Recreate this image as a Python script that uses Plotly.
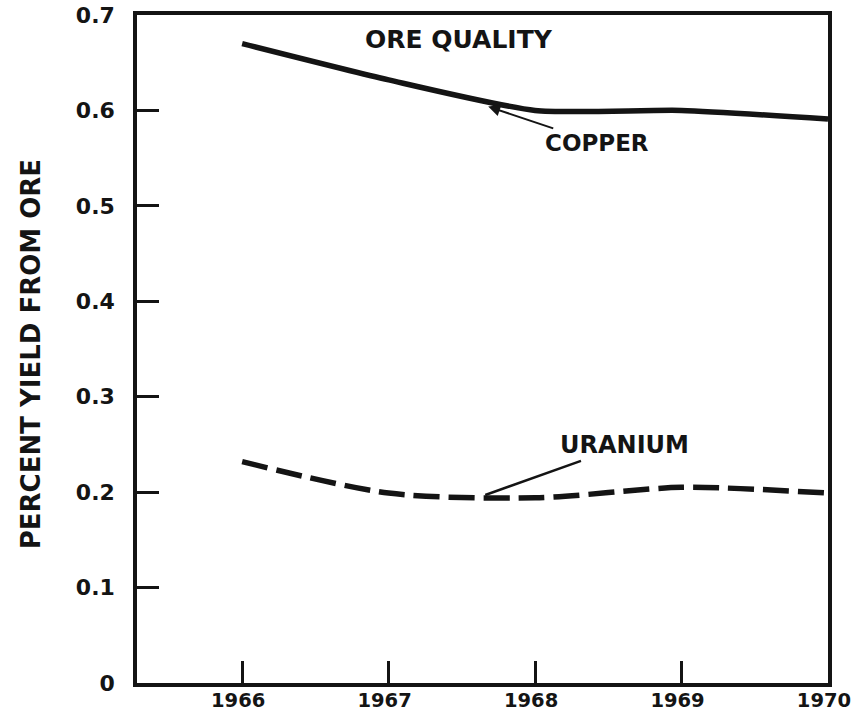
import plotly.graph_objects as go

# Yield of metal from ore, percent
years = [1966, 1967, 1968, 1969, 1970]
copper = [0.670, 0.632, 0.600, 0.600, 0.591]
uranium = [0.232, 0.199, 0.194, 0.205, 0.199]

x_ticks = [1966, 1967, 1968, 1969, 1970]
x_labels = ["1966", "1967", "1968", "1969", "1970"]
y_ticks = [0, 0.1, 0.2, 0.3, 0.4, 0.5, 0.6, 0.7]
y_labels = ["0", "0.1", "0.2", "0.3", "0.4", "0.5", "0.6", "0.7"]

INK = "#141414"
FONT = "DejaVu Sans"

fig = go.Figure()

fig.add_trace(go.Scatter(
    x=years, y=copper, mode="lines", name="COPPER",
    line=dict(color=INK, width=5.5, shape="spline", smoothing=0.6),
))
fig.add_trace(go.Scatter(
    x=years, y=uranium, mode="lines", name="URANIUM",
    line=dict(color=INK, width=5.5, dash="26px,9px", shape="spline", smoothing=0.8),
))

# Title inside the frame
fig.add_annotation(
    text="ORE QUALITY", x=0.466, y=0.963, xref="paper", yref="paper",
    xanchor="center", yanchor="middle", showarrow=False,
    font=dict(family=FONT, size=25, color=INK, weight="bold"),
)

# Labels with leader lines
fig.add_annotation(
    text="COPPER", x=1967.68, y=0.604, ax=1968.42, ay=0.566,
    xref="x", yref="y", axref="x", ayref="y",
    showarrow=True, arrowhead=2, arrowsize=1.2, arrowwidth=2, arrowcolor=INK,
    font=dict(family=FONT, size=23, color=INK, weight="bold"),
)
fig.add_annotation(
    text="URANIUM", x=1967.66, y=0.197, ax=1968.61, ay=0.249,
    xref="x", yref="y", axref="x", ayref="y",
    showarrow=True, arrowhead=0, arrowwidth=2.5, arrowcolor=INK,
    font=dict(family=FONT, size=24, color=INK, weight="bold"),
)

# Vertical axis title
fig.add_annotation(
    text="PERCENT YIELD FROM ORE", x=-0.153, y=0.4925, xref="paper", yref="paper",
    xanchor="center", yanchor="middle", textangle=-90, showarrow=False,
    font=dict(family=FONT, size=26, color=INK, weight="bold"),
)

axis_common = dict(
    showgrid=False, zeroline=False, showline=True, mirror=True,
    linecolor=INK, linewidth=3.5, automargin=False,
    ticks="inside", ticklen=22, tickwidth=3, tickcolor=INK,
    ticklabeloverflow="allow",
)

fig.update_xaxes(
    range=[1965.282, 1970.0], tickmode="array", tickvals=x_ticks, ticktext=x_labels,
    ticklabelstandoff=-3, ticklabelshift=-4,
    tickfont=dict(family=FONT, size=19.5, color=INK, weight="bold"),
    **axis_common,
)
fig.update_yaxes(
    range=[0, 0.7], tickmode="array", tickvals=y_ticks, ticktext=y_labels,
    ticklabelstandoff=14, tickfont=dict(family=FONT, size=22, color=INK, weight="bold"),
    **axis_common,
)

fig.update_layout(
    width=853, height=720,
    margin=dict(l=137, r=25, t=15, b=37),
    paper_bgcolor="white", plot_bgcolor="white",
    showlegend=False,
)

fig.write_html("out.html")
